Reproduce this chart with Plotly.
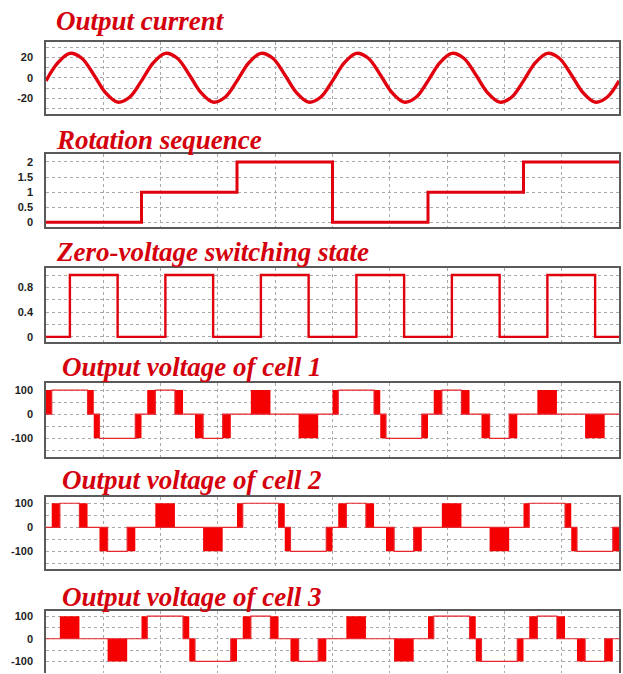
import plotly.graph_objects as go

# ---------------------------------------------------------------
# Data (time in ms)
# ---------------------------------------------------------------
T_START, T_END = 0, 120
GRID_STEP = 12

# Output current, sampled every 2.5 ms (A)
current_t = [2.5 * i for i in range(49)]
current_a = [
    -3.0, 14.7, 23.8, 19.0, 3.0, -14.7, -23.8, -19.0,
    -3.0, 14.7, 23.8, 19.0, 3.0, -14.7, -23.8, -19.0,
    -3.0, 14.7, 23.8, 19.0, 3.0, -14.7, -23.8, -19.0,
    -3.0, 14.7, 23.8, 19.0, 3.0, -14.7, -23.8, -19.0,
    -3.0, 14.7, 23.8, 19.0, 3.0, -14.7, -23.8, -19.0,
    -3.0, 14.7, 23.8, 19.0, 3.0, -14.7, -23.8, -19.0,
    -3.0,
]

# Rotation sequence (one step per fundamental period)
rotation_edges = [0, 20, 40, 60, 80, 100, 120]
rotation_vals = [0, 1, 2, 0, 1, 2]

# Zero-voltage switching state
zvs_edges = [0, 5, 15, 25, 35, 45, 55, 65, 75, 85, 95, 105, 115, 120]
zvs_vals = [0, 1, 0, 1, 0, 1, 0, 1, 0, 1, 0, 1, 0]

# Cell output voltages: interval edges and state codes
#   '+' = +100 V, '-' = -100 V, '0' = 0 V,
#   'P' = PWM between 0 and +100, 'N' = PWM between 0 and -100
cell1_edges = [0, 1.2, 8.7, 10, 11.2, 18.7, 20, 21.2, 22.9, 27.0, 28.7, 31.2,
               32.9, 37.0, 38.7, 42.9, 47.0, 52.9, 57.0, 60, 61.2, 68.7, 70,
               71.2, 78.7, 80, 81.2, 82.9, 87.0, 88.7, 91.2, 92.9, 97.0, 98.7,
               102.9, 107.0, 112.9, 117.0, 120]
cell1_codes = "P+PN-N0P+P0N-N0P0N0P+PN-N0P+P0N-N0P0N0"

cell2_edges = [0, 1.2, 2.9, 7.0, 8.7, 11.2, 12.9, 17.0, 18.7, 22.9, 27.0, 32.9,
               37.0, 40, 41.2, 48.7, 50, 51.2, 58.7, 60, 61.2, 62.9, 67.0, 68.7,
               71.2, 72.9, 77.0, 78.7, 82.9, 87.0, 92.9, 97.0, 100, 101.2,
               108.7, 110, 111.2, 118.7, 120]
cell2_codes = "0P+P0N-N0P0N0P+PN-N0P+P0N-N0P0N0P+PN-N"

cell3_edges = [0, 2.9, 7.0, 12.9, 17.0, 20, 21.2, 28.7, 30, 31.2, 38.7, 40,
               41.2, 42.9, 47.0, 48.7, 51.2, 52.9, 57.0, 58.7, 62.9, 67.0, 72.9,
               77.0, 80, 81.2, 88.7, 90, 91.2, 98.7, 100, 101.2, 102.9, 107.0,
               108.7, 111.2, 112.9, 117.0, 118.7, 120]
cell3_codes = "0P0N0P+PN-N0P+P0N-N0P0N0P+PN-N0P+P0N-N0"

titles = [
    "Output current",
    "Rotation sequence",
    "Zero-voltage switching state",
    "Output voltage of cell 1",
    "Output voltage of cell 2",
    "Output voltage of cell 3",
]

# ---------------------------------------------------------------
# Styling / layout
# ---------------------------------------------------------------
W, H = 623, 674
LINE_RED = "#e0000e"
FILL_RED = "#f40000"
TITLE_RED = "#d4000c"
GRID = "#a8a8a8"
FRAME = "#5a5a5a"

X_LEFT, X_RIGHT = 46, 619
# (top, bottom) of each plotting box in pixels
boxes = [(41, 113), (153, 227), (268, 342), (383, 457), (497, 570), (612, 674)]
title_mid = [20, 139, 252, 367, 480, 598]
title_left = [54, 54, 54, 60, 60, 60]

y_ranges = [
    [-35, 35],
    [-0.165, 2.28],
    [-0.082, 1.11],
    [-176, 130],
    [-175, 128],
    [-151.3, 121.9],
]
y_tickvals = [
    [-30, -20, -10, 0, 10, 20, 30],
    [0, 0.5, 1, 1.5, 2],
    [0, 0.2, 0.4, 0.6, 0.8, 1.0],
    [-150, -100, -50, 0, 50, 100],
    [-150, -100, -50, 0, 50, 100],
    [-150, -100, -50, 0, 50, 100],
]
y_ticktext = [
    ["", "-20", "", "0", "", "20", ""],
    ["0", "0.5", "1", "1.5", "2"],
    ["0", "", "0.4", "", "0.8", ""],
    ["", "-100", "", "0", "", "100"],
    ["", "-100", "", "0", "", "100"],
    ["", "-100", "", "0", "", "100"],
]


def fx(px):
    return px / W


def fy(px):
    return 1 - px / H


def step_xy(edges, vals):
    return list(edges), list(vals) + [vals[-1]]


LEVEL = {"+": 100, "-": -100, "0": 0, "P": 0, "N": 0}


fig = go.Figure()

# Panel 1: current
fig.add_trace(go.Scatter(
    x=current_t, y=current_a, mode="lines",
    line=dict(color=LINE_RED, width=3.4, shape="spline", smoothing=1.0),
    xaxis="x", yaxis="y", showlegend=False, hoverinfo="skip"))

# Panel 2: rotation
rx, ry = step_xy(rotation_edges, rotation_vals)
fig.add_trace(go.Scatter(
    x=rx, y=ry, mode="lines", line=dict(color=LINE_RED, width=3, shape="hv"),
    xaxis="x2", yaxis="y2", showlegend=False, hoverinfo="skip"))

# Panel 3: zero-voltage switching state
zx, zy = step_xy(zvs_edges, zvs_vals)
fig.add_trace(go.Scatter(
    x=zx, y=zy, mode="lines", line=dict(color=LINE_RED, width=2.4, shape="hv"),
    xaxis="x3", yaxis="y3", showlegend=False, hoverinfo="skip"))

# Panels 4-6: cell voltages
cells = [(cell1_edges, cell1_codes), (cell2_edges, cell2_codes), (cell3_edges, cell3_codes)]
for k, (edges, codes) in enumerate(cells):
    ax = str(k + 4)
    centers, widths, heights = [], [], []
    for i, c in enumerate(codes):
        if c in "PN":
            centers.append((edges[i] + edges[i + 1]) / 2)
            widths.append(edges[i + 1] - edges[i])
            heights.append(100 if c == "P" else -100)
    fig.add_trace(go.Bar(
        x=centers, y=heights, width=widths, base=0,
        marker=dict(color=FILL_RED, line=dict(width=0)),
        xaxis="x" + ax, yaxis="y" + ax, showlegend=False, hoverinfo="skip"))
    levels = [LEVEL[c] for c in codes]
    sx, sy = step_xy(edges, levels)
    fig.add_trace(go.Scatter(
        x=sx, y=sy, mode="lines", line=dict(color="#e8262e", width=1.2, shape="hv"),
        xaxis="x" + ax, yaxis="y" + ax, showlegend=False, hoverinfo="skip"))

layout = dict(
    width=W, height=H,
    margin=dict(l=0, r=0, t=0, b=0),
    paper_bgcolor="white", plot_bgcolor="white",
    barmode="overlay",
    showlegend=False,
)

x_ticks = list(range(T_START, T_END + 1, GRID_STEP))
for n in range(6):
    top, bot = boxes[n]
    sfx = "" if n == 0 else str(n + 1)
    last = n == 5
    layout["xaxis" + sfx] = dict(
        domain=[fx(X_LEFT), fx(X_RIGHT)],
        anchor="y" + sfx,
        range=[T_START, T_END],
        tickvals=x_ticks, showticklabels=False, ticks="",
        showgrid=True, gridcolor=GRID, griddash="dot", gridwidth=1,
        zeroline=False,
        showline=True, linecolor=FRAME, linewidth=1.5,
        mirror=False if last else True,
        side="top" if last else "bottom",
        fixedrange=True,
    )
    layout["yaxis" + sfx] = dict(
        domain=[fy(bot), fy(top)],
        anchor="x" + sfx,
        range=y_ranges[n],
        tickvals=y_tickvals[n], ticktext=y_ticktext[n],
        ticks="", ticklabelstandoff=9,
        tickfont=dict(family="Liberation Sans", size=11, color="#1e1e1e", weight="bold"),
        showgrid=True, gridcolor=GRID, griddash="dot", gridwidth=1,
        zeroline=False,
        showline=True, linecolor=FRAME, linewidth=1.5, mirror=True,
        fixedrange=True,
    )

layout["annotations"] = [
    dict(text=titles[n], xref="paper", yref="paper",
         x=fx(title_left[n]), y=fy(title_mid[n]), xanchor="left", yanchor="middle",
         showarrow=False,
         font=dict(family="Liberation Serif", size=27, color=TITLE_RED,
                   style="italic", weight="bold"))
    for n in range(6)
]

fig.update_layout(**layout)
fig.write_html("out.html")
